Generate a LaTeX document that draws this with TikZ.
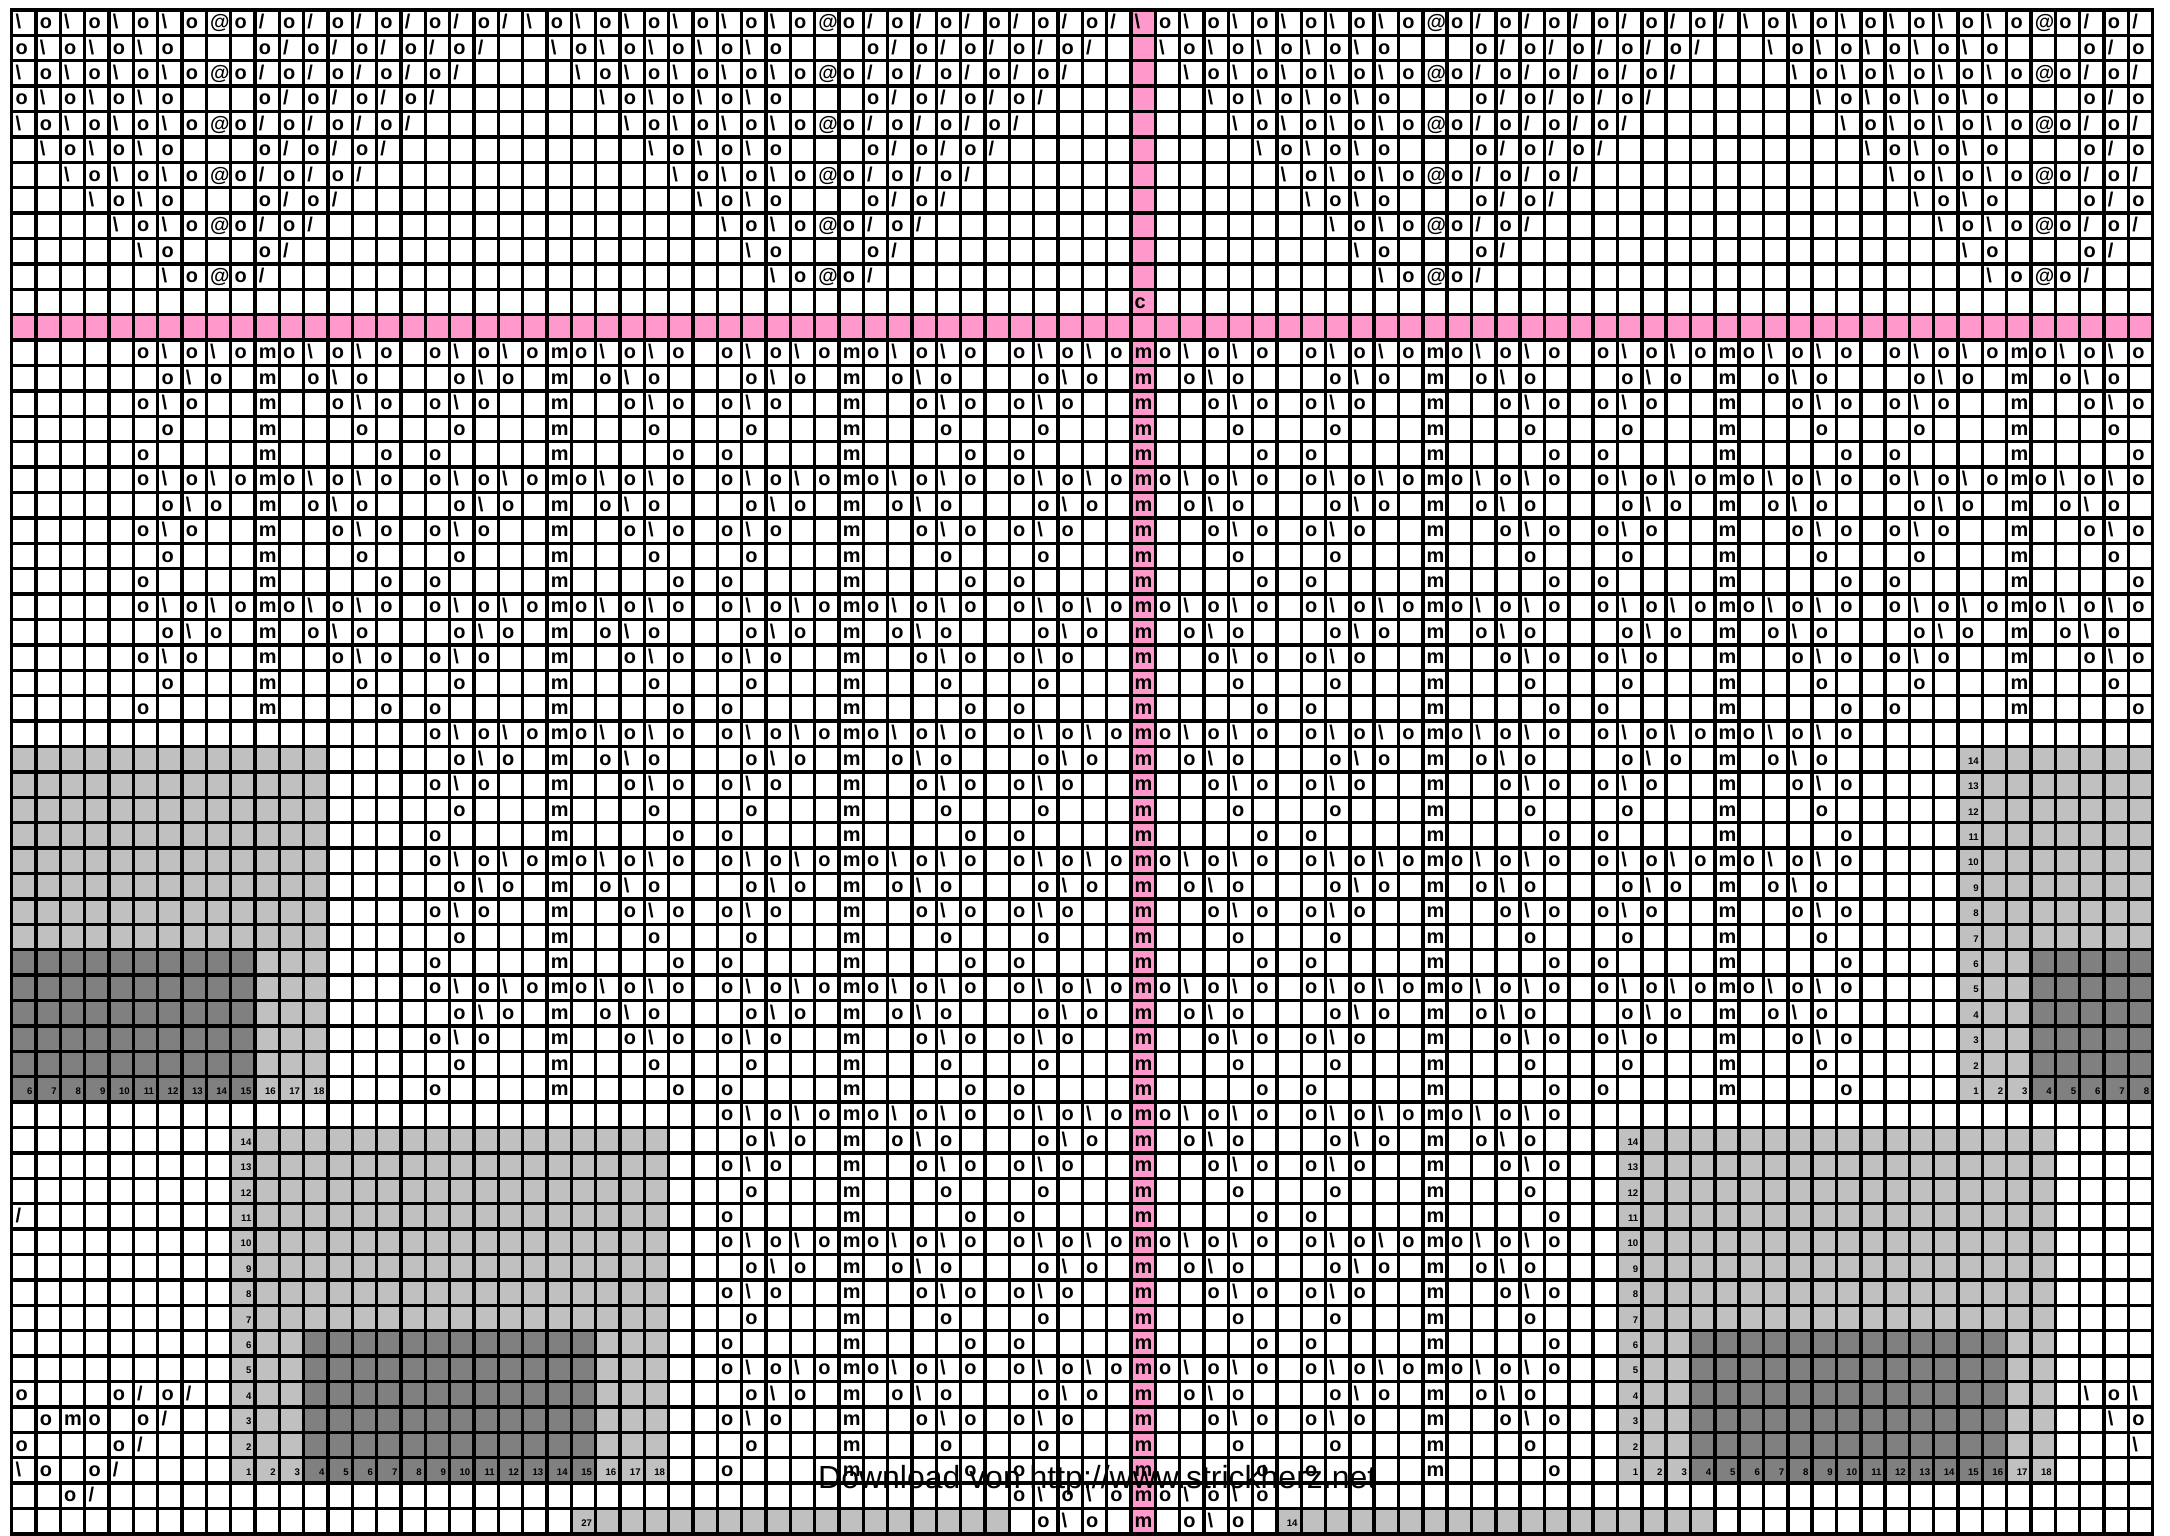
\documentclass[tikz,border=0pt]{standalone}
\usepackage{fontspec}
\usepackage{graphicx}
\setmainfont{Liberation Sans}
\definecolor{pinkc}{HTML}{FF99CC}
\definecolor{lgray}{HTML}{C0C0C0}
\definecolor{dgray}{HTML}{808080}
\def\XO{11.7}
\def\YO{9.8}
\def\CW{24.33}
\def\CH{25.4}
\def\cho{o}
\def\chb{\textbackslash}
\def\chs{/}
\def\chm{m}
\def\cha{@}
\def\chc{c}
\def\mtA{-5/o,-4/b,-3/o,-2/b,-1/o,0/m,1/o,2/b,3/o,4/b,5/o}
\def\mtB{-4/o,-3/b,-2/o,0/m,2/o,3/b,4/o}
\def\mtC{-5/o,-4/b,-3/o,0/m,3/o,4/b,5/o}
\def\mtD{-4/o,0/m,4/o}
\def\mtE{-5/o,0/m,5/o}
\tikzset{
  symb/.style={anchor=base west, inner sep=0pt, font=\fontsize{17pt}{17pt}\selectfont\bfseries},
  numb/.style={anchor=base east, inner sep=0pt, font=\fontsize{8.2pt}{8.2pt}\selectfont\bfseries},
  gridline/.style={line width=1.02mm, black, line cap=rect},
  dltext/.style={anchor=base west, inner sep=0pt}
}
\newcommand\sy[3]{\node[symb] (s#1-#2) at ({\XO+#1*\CW+3.6},{\YO+#2*\CH+18.8}) {\csname ch#3\endcsname};}
\newcommand\nm[3]{\node[numb] (n#1-#2) at ({\XO+(#1+1)*\CW-3.4},{\YO+#2*\CH+17.8}) {#3};}
\newcommand\fillcells[5]{\fill[#1] ({\XO+#2*\CW},{\YO+#3*\CH}) rectangle ({\XO+(#4+1)*\CW},{\YO+(#5+1)*\CH});}
\newcommand\motifrows[3]{%
  \foreach \rr in {#1,...,#2}{%
    \pgfmathtruncatemacro\rowt{mod(\rr-13,5)}%
    \ifcase\rowt\relax \let\tl\mtA \or \let\tl\mtB \or \let\tl\mtC \or \let\tl\mtD \or \let\tl\mtE \fi
    \foreach \M in {#3}{%
      \foreach \dx/\sc in \tl {%
        \pgfmathtruncatemacro\col{\M+\dx}%
        \sy{\col}{\rr}{\sc}%
      }%
    }%
  }%
}
\begin{document}
\begin{tikzpicture}[x=0.3mm,y=-0.3mm]
\useasboundingbox (0,0) rectangle (2170,1535);
\fill[white] (0,0) rectangle (2170,1535);
% coloured cells
\fillcells{pinkc}{46}{0}{46}{59}
\fillcells{pinkc}{0}{12}{87}{12}
\fillcells{lgray}{0}{29}{12}{42}
\fillcells{dgray}{0}{37}{9}{42}
\fillcells{lgray}{80}{29}{87}{42}
\fillcells{dgray}{83}{37}{87}{42}
\fillcells{lgray}{9}{44}{26}{57}
\fillcells{dgray}{12}{52}{23}{57}
\fillcells{lgray}{66}{44}{83}{57}
\fillcells{dgray}{69}{52}{81}{57}
\fillcells{lgray}{23}{59}{40}{59}
\fillcells{lgray}{52}{59}{69}{59}
% grid
\foreach \cc in {0,...,88}{\draw[gridline] ({\XO+\cc*\CW},{\YO}) -- ({\XO+\cc*\CW},{\YO+60*\CH});}
\foreach \rr in {0,...,60}{\draw[gridline] ({\XO},{\YO+\rr*\CH}) -- ({\XO+88*\CW},{\YO+\rr*\CH});}
% top triangles
\foreach \C in {8,33,58,83}{%
  \foreach \rr in {0,...,10}{%
    \pgfmathtruncatemacro\hh{12-\rr}%
    \ifodd\rr\relax
      \pgfmathtruncatemacro\hb{\hh-2}%
      \foreach \kk in {0,...,\hb}{%
        \pgfmathtruncatemacro\col{\C-\hh+\kk}%
        \ifnum\col>-1 \ifodd\kk\relax \sy{\col}{\rr}{o}\else \sy{\col}{\rr}{b}\fi\fi}%
      \foreach \kk in {2,...,\hh}{%
        \pgfmathtruncatemacro\col{\C+\kk}%
        \ifnum\col<88 \ifodd\kk\relax \sy{\col}{\rr}{s}\else \sy{\col}{\rr}{o}\fi\fi}%
    \else
      \pgfmathtruncatemacro\hb{\hh-1}%
      \foreach \kk in {0,...,\hb}{%
        \pgfmathtruncatemacro\col{\C-\hh+\kk}%
        \ifnum\col>-1 \ifodd\kk\relax \sy{\col}{\rr}{o}\else \sy{\col}{\rr}{b}\fi\fi}%
      \sy{\C}{\rr}{a}%
      \foreach \kk in {1,...,\hh}{%
        \pgfmathtruncatemacro\col{\C+\kk}%
        \ifnum\col<88 \ifodd\kk\relax \sy{\col}{\rr}{o}\else \sy{\col}{\rr}{s}\fi\fi}%
    \fi
  }%
}
% lower motifs
\motifrows{13}{27}{10,22,34,46,58,70,82}
\motifrows{28}{42}{22,34,46,58,70}
\motifrows{43}{57}{34,46,58}
\motifrows{58}{59}{46}
% single symbols
\foreach \cc/\rr/\sc in {46/11/c, 0/47/s, 0/54/o, 4/54/o, 5/54/s, 6/54/o, 7/54/s,
  1/55/o, 2/55/m, 3/55/o, 5/55/o, 6/55/s, 0/56/o, 4/56/o, 5/56/s,
  0/57/b, 1/57/o, 3/57/o, 4/57/s, 2/58/o, 3/58/s,
  85/54/b, 86/54/o, 87/54/b, 86/55/b, 87/55/o, 87/56/b}{\sy{\cc}{\rr}{\sc}}
% numbers
\foreach \cc in {0,...,12}{\pgfmathtruncatemacro\nn{\cc+6}\nm{\cc}{42}{\nn}}
\foreach \rr in {29,...,41}{\pgfmathtruncatemacro\nn{43-\rr}\nm{80}{\rr}{\nn}}
\foreach \cc in {80,...,87}{\pgfmathtruncatemacro\nn{\cc-79}\nm{\cc}{42}{\nn}}
\foreach \rr in {44,...,56}{\pgfmathtruncatemacro\nn{58-\rr}\nm{9}{\rr}{\nn}\nm{66}{\rr}{\nn}}
\foreach \cc in {9,...,26}{\pgfmathtruncatemacro\nn{\cc-8}\nm{\cc}{57}{\nn}}
\foreach \cc in {66,...,83}{\pgfmathtruncatemacro\nn{\cc-65}\nm{\cc}{57}{\nn}}
\nm{23}{59}{27}
\nm{52}{59}{14}
% overlay text
\node[dltext] (dl) at (818,1488) {\resizebox{167.4mm}{!}{\fontsize{27pt}{27pt}\selectfont Download von http://www.strickherz.net}};
\end{tikzpicture}
\end{document}
